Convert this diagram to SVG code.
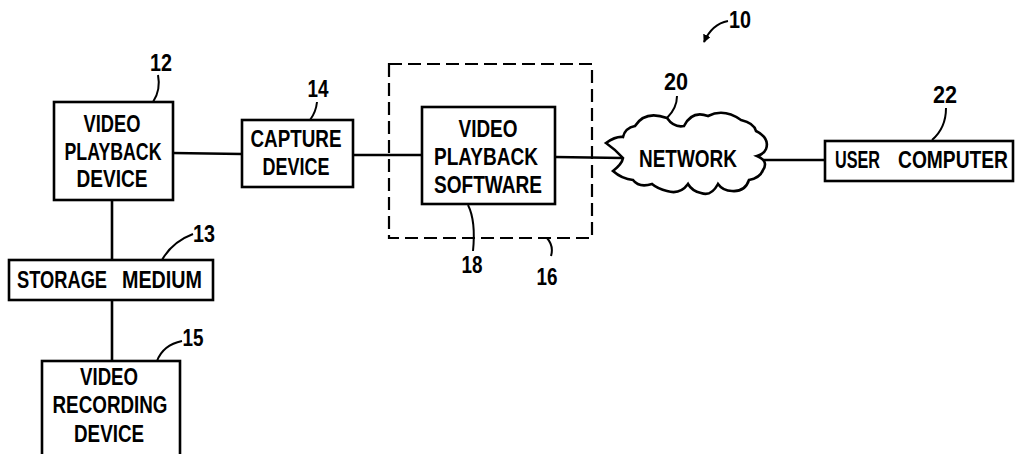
<svg xmlns="http://www.w3.org/2000/svg" width="1015" height="454" viewBox="0 0 1015 454">
  <style>
    .box { fill: #fff; stroke: #000; stroke-width: 2.6; }
    .wire { fill: none; stroke: #000; stroke-width: 2.6; }
    .lead { fill: none; stroke: #000; stroke-width: 2; }
    .dash { fill: none; stroke: #000; stroke-width: 2.2; stroke-dasharray: 13 6; }
    /* labels are set in a bold sans, squeezed horizontally by the transform on each text */
    .t { font-family: "Liberation Sans", Arial, sans-serif; font-size: 23.5px; font-weight: bold; fill: #000; text-anchor: middle; }
    .s { font-family: "Liberation Sans", Arial, sans-serif; font-size: 23.5px; font-weight: bold; fill: #000; text-anchor: start; }
  </style>
  <defs>
    <marker id="arrow" viewBox="0 0 10 10" refX="9" refY="5" markerWidth="8" markerHeight="8" orient="auto-start-reverse" markerUnits="userSpaceOnUse">
      <path d="M0,0 L10,5 L0,10 Z" fill="#000"/>
    </marker>
  </defs>
  <rect width="1015" height="454" fill="#fff"/>

  <!-- connectors -->
  <g id="connectors">
    <path class="wire" d="M173,153 L242,154"/>
    <path class="wire" d="M353,155 L422,155"/>
    <path class="wire" d="M555,157 L623,158"/>
    <path class="wire" d="M763,160 L825,160"/>
    <path class="wire" d="M112,200 L112,260"/>
    <path class="wire" d="M112,300 L112,361"/>
  </g>

  <!-- overall system reference -->
  <g id="ref-10">
    <path class="lead" d="M728,21 Q712,24 704,42" marker-end="url(#arrow)"/>
    <text class="t" transform="translate(740,28) scale(0.82,1)" textLength="26.8" lengthAdjust="spacingAndGlyphs">10</text>
  </g>

  <g id="video-playback-device">
    <rect class="box" x="54" y="102" width="119" height="98"/>
    <text class="t" transform="translate(112,132) scale(0.82,1)" textLength="69.5" lengthAdjust="spacingAndGlyphs">VIDEO</text>
    <text class="t" transform="translate(113,160) scale(0.82,1)" textLength="118.3" lengthAdjust="spacingAndGlyphs">PLAYBACK</text>
    <text class="t" transform="translate(112,187) scale(0.82,1)" textLength="86.6" lengthAdjust="spacingAndGlyphs">DEVICE</text>
    <path class="lead" d="M153,102 Q161,90 158,75"/>
    <text class="t" transform="translate(161,71) scale(0.82,1)" textLength="26.8" lengthAdjust="spacingAndGlyphs">12</text>
  </g>

  <g id="capture-device">
    <rect class="box" x="242" y="120" width="111" height="67"/>
    <text class="t" transform="translate(296,147) scale(0.82,1)" textLength="111" lengthAdjust="spacingAndGlyphs">CAPTURE</text>
    <text class="t" transform="translate(296,175) scale(0.82,1)" textLength="81.7" lengthAdjust="spacingAndGlyphs">DEVICE</text>
    <path class="lead" d="M310,120 Q316,112 317,102"/>
    <text class="t" transform="translate(318,97) scale(0.82,1)" textLength="25.6" lengthAdjust="spacingAndGlyphs">14</text>
  </g>

  <g id="host-16">
    <rect class="dash" x="389" y="64" width="203" height="174"/>
    <path class="lead" d="M547,238 Q554,246 551,256"/>
    <text class="t" transform="translate(547,285) scale(0.82,1)" textLength="25.6" lengthAdjust="spacingAndGlyphs">16</text>
  </g>

  <g id="video-playback-software">
    <rect class="box" x="422" y="107" width="133" height="97"/>
    <text class="t" transform="translate(488,137) scale(0.82,1)" textLength="72" lengthAdjust="spacingAndGlyphs">VIDEO</text>
    <text class="t" transform="translate(486,165) scale(0.82,1)" textLength="126.8" lengthAdjust="spacingAndGlyphs">PLAYBACK</text>
    <text class="t" transform="translate(488,193) scale(0.82,1)" textLength="131.7" lengthAdjust="spacingAndGlyphs">SOFTWARE</text>
    <path class="lead" d="M468,205 Q476,221 473,251"/>
    <text class="t" transform="translate(472,273) scale(0.82,1)" textLength="25.6" lengthAdjust="spacingAndGlyphs">18</text>
  </g>

  <g id="network">
    <path class="box" d="M635,126 Q645,110 667,118 Q674,128 684,126 Q692,110 708,116 Q724,108 741,120 Q754,123 756,131 Q770,138 766,149 Q764,154 757,156 Q769,161 763,170 Q760,178 749,180 Q745,192 732,191 Q723,191 718,184 Q711,197 701,193 Q692,191 688,184 Q680,195 667,191 Q658,189 652,184 Q639,188 633,180 Q622,179 613,171 Q622,164 623,158 Q616,150 606,143 Q616,136 623,137 Q625,128 635,126 Z"/>
    <text class="t" transform="translate(688,167) scale(0.82,1)" textLength="119.5" lengthAdjust="spacingAndGlyphs">NETWORK</text>
    <path class="lead" d="M667,118 Q677,108 677,96"/>
    <text class="t" transform="translate(676,90) scale(0.82,1)" textLength="29.3" lengthAdjust="spacingAndGlyphs">20</text>
  </g>

  <g id="user-computer">
    <rect class="box" x="825" y="141" width="188" height="40"/>
    <text class="s" transform="translate(835,168) scale(0.82,1)" textLength="54.9" lengthAdjust="spacingAndGlyphs">USER</text>
    <text class="s" transform="translate(898,168) scale(0.82,1)" textLength="134.1" lengthAdjust="spacingAndGlyphs">COMPUTER</text>
    <path class="lead" d="M932,140 Q946,128 946,108"/>
    <text class="t" transform="translate(945,103) scale(0.82,1)" textLength="29.3" lengthAdjust="spacingAndGlyphs">22</text>
  </g>

  <g id="storage-medium">
    <rect class="box" x="9" y="260" width="204" height="40"/>
    <text class="s" transform="translate(17,288) scale(0.82,1)" textLength="109.8" lengthAdjust="spacingAndGlyphs">STORAGE</text>
    <text class="s" transform="translate(122,288) scale(0.82,1)" textLength="97.6" lengthAdjust="spacingAndGlyphs">MEDIUM</text>
    <path class="lead" d="M162,260 Q172,242 193,234"/>
    <text class="t" transform="translate(204,242) scale(0.82,1)" textLength="26.8" lengthAdjust="spacingAndGlyphs">13</text>
  </g>

  <g id="video-recording-device">
    <rect class="box" x="42" y="361" width="138" height="110"/>
    <text class="t" transform="translate(109,385) scale(0.82,1)" textLength="70.7" lengthAdjust="spacingAndGlyphs">VIDEO</text>
    <text class="t" transform="translate(110,413) scale(0.82,1)" textLength="140.2" lengthAdjust="spacingAndGlyphs">RECORDING</text>
    <text class="t" transform="translate(109,442) scale(0.82,1)" textLength="85.4" lengthAdjust="spacingAndGlyphs">DEVICE</text>
    <path class="lead" d="M157,361 Q163,345 182,341"/>
    <text class="t" transform="translate(193,346) scale(0.82,1)" textLength="25.6" lengthAdjust="spacingAndGlyphs">15</text>
  </g>
</svg>
